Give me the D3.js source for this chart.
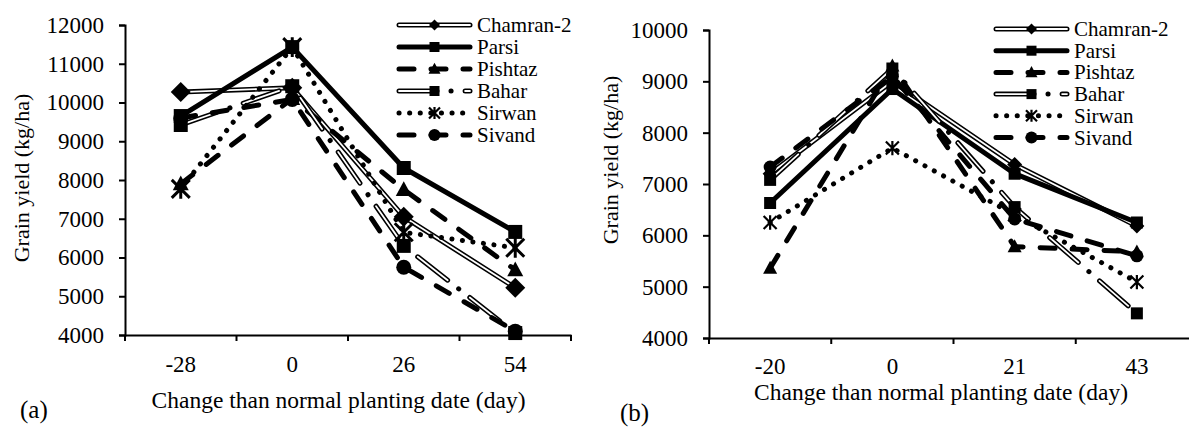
<!DOCTYPE html>
<html>
<head>
<meta charset="utf-8">
<script src="https://cdn.jsdelivr.net/npm/d3@7/dist/d3.min.js"></script>
<style>
  html, body { margin: 0; padding: 0; background: #fff; }
  svg { display: block; }
  text { font-family: "Liberation Serif", "Times New Roman", serif; fill: #000; }
</style>
</head>
<body>
<svg id="chart" width="1189" height="430"></svg>
<script>
// ---------- data ----------
const seriesNames = ["Chamran-2", "Parsi", "Pishtaz", "Bahar", "Sirwan", "Sivand"];

// panel (a)
const categoriesA = ["-28", "0", "26", "54"];
const yTicksA = [4000, 5000, 6000, 7000, 8000, 9000, 10000, 11000, 12000];
const chamranA = [10270, 10380, 7050, 5220];
const parsiA   = [9650, 11430, 8310, 6660];
const pishtazA = [7900, 10100, 7750, 5680];
const baharA   = [9420, 10420, 6300, 4050];
const sirwanA  = [7770, 11430, 6650, 6250];
const sivandA  = [9600, 10080, 5750, 4100];

// panel (b)
const categoriesB = ["-20", "0", "21", "43"];
const yTicksB = [4000, 5000, 6000, 7000, 8000, 9000, 10000];
const chamranB = [7200, 9000, 7380, 6180];
const parsiB   = [6630, 8850, 7200, 6250];
const pishtazB = [5360, 9300, 5780, 5680];
const baharB   = [7080, 9250, 6550, 4480];
const sirwanB  = [6250, 7700, 6400, 5090];
const sivandB  = [7330, 9100, 6320, 5600];

const xTitle = "Change than normal planting date (day)";
const yTitle = "Grain yield (kg/ha)";

// ---------- styles ----------
const FONT = "'Liberation Serif','Times New Roman',serif";
const styles = {
  "Chamran-2": { kind: "double", dash: null, marker: "diamond" },
  "Parsi":     { kind: "solid", dash: null, marker: "square" },
  "Pishtaz":   { kind: "solid", dash: "15,17", marker: "triangle" },
  "Bahar":     { kind: "double", dash: "38,14,0.1,14", innerDash: "38,28.1", marker: "square" },
  "Sirwan":    { kind: "solid", dash: "0.1,10.5", marker: "asterisk" },
  "Sivand":    { kind: "solid", dash: "15,17", marker: "circle" }
};

const svg = d3.select("#chart");

function markerPath(type, s) {
  const p = d3.path();
  if (type === "diamond") {
    p.moveTo(0, -s); p.lineTo(s, 0); p.lineTo(0, s); p.lineTo(-s, 0); p.closePath();
  } else if (type === "square") {
    p.rect(-s, -s, 2 * s, 2 * s);
  } else if (type === "triangle") {
    p.moveTo(0, -s * 1.05); p.lineTo(s, s * 0.8); p.lineTo(-s, s * 0.8); p.closePath();
  } else if (type === "circle") {
    p.arc(0, 0, s, 0, 2 * Math.PI);
  } else if (type === "asterisk") {
    p.moveTo(-s, -s); p.lineTo(s, s);
    p.moveTo(s, -s); p.lineTo(-s, s);
    p.moveTo(0, -s * 1.1); p.lineTo(0, s * 1.1);
  }
  return p.toString();
}

function drawMarker(g, type, x, y, s) {
  const el = g.append("path")
    .attr("d", markerPath(type, s))
    .attr("transform", `translate(${x},${y})`);
  if (type === "asterisk") {
    el.attr("fill", "none").attr("stroke", "#000").attr("stroke-width", Math.max(2.2, s * 0.33));
  } else {
    el.attr("fill", "#000").attr("stroke", "none");
  }
}

function styledPath(g, d, st) {
  const outer = g.append("path").attr("d", d)
    .attr("fill", "none").attr("stroke", "#000")
    .attr("stroke-width", 5).attr("stroke-linejoin", "round")
    .attr("stroke-linecap", "round");
  if (st.dash) outer.attr("stroke-dasharray", st.dash);
  if (st.kind === "double") {
    const inner = g.append("path").attr("d", d)
      .attr("fill", "none").attr("stroke", "#fff")
      .attr("stroke-width", 1.8).attr("stroke-linejoin", "round")
      .attr("stroke-linecap", "round");
    if (st.innerDash) inner.attr("stroke-dasharray", st.innerDash);
  }
}

function drawPanel(cfg) {
  const g = svg.append("g");
  const x = d3.scaleBand().domain(cfg.categories).range([cfg.x0, cfg.x1]).padding(0);
  const y = d3.scaleLinear().domain([cfg.yTicks[0], cfg.yTicks[cfg.yTicks.length - 1]]).range([cfg.yBottom, cfg.yTop]);
  const cx = c => x(c) + x.bandwidth() / 2;

  // series
  const line = d3.line().x(d => cx(d.c)).y(d => y(d.v));
  cfg.series.forEach((vals, i) => {
    const name = seriesNames[i];
    const st = styles[name];
    const pts = cfg.categories.map((c, j) => ({ c: c, v: vals[j] }));
    styledPath(g, line(pts), st);
    pts.forEach(p => drawMarker(g, st.marker, cx(p.c), y(p.v), cfg.msize[st.marker]));
  });

  // y axis
  const ya = g.append("g").attr("transform", `translate(${cfg.x0},0)`)
    .call(d3.axisLeft(y).tickValues(cfg.yTicks).tickSize(6).tickPadding(15).tickFormat(d3.format("d")));
  ya.attr("font-family", FONT);
  ya.select(".domain").attr("stroke-width", 2);
  ya.selectAll(".tick line").attr("stroke-width", 2);
  ya.selectAll("text").style("font-size", "23px").style("font-family", FONT);

  // x axis (labels at category centers, ticks at boundaries)
  const xa = g.append("g").attr("transform", `translate(0,${cfg.yBottom})`)
    .call(d3.axisBottom(x).tickSize(0).tickPadding(cfg.xLabelPad).tickSizeOuter(0));
  xa.attr("font-family", FONT);
  xa.select(".domain").attr("stroke-width", 2.2);
  xa.selectAll("text").style("font-size", "23px").style("font-family", FONT);
  const bounds = cfg.categories.map(c => x(c)).concat([x.range()[1]]);
  g.selectAll(null).data(bounds).enter().append("line")
    .attr("x1", d => d).attr("x2", d => d)
    .attr("y1", cfg.yBottom).attr("y2", cfg.yBottom + 6)
    .attr("stroke", "#000").attr("stroke-width", 2);

  // titles
  g.append("text").attr("x", cfg.xTitleX).attr("y", cfg.xTitleY)
    .attr("text-anchor", "middle").style("font-size", "23.5px").style("font-family", FONT).text(xTitle);
  g.append("text")
    .attr("transform", `translate(${cfg.yTitleX},${cfg.yTitleY}) rotate(-90)`)
    .attr("text-anchor", "middle").style("font-size", "22px").style("font-family", FONT).text(yTitle);
  g.append("text").attr("x", cfg.tagX).attr("y", cfg.tagY)
    .style("font-size", "25px").style("font-family", FONT).text(cfg.tag);

  // legend
  const lg = g.append("g");
  seriesNames.forEach((name, i) => {
    const st = styles[name];
    const ry = cfg.legY + i * cfg.legStep;
    const d = d3.line()([[cfg.legX0, ry], [cfg.legX1, ry]]);
    styledPath(lg, d, st);
    drawMarker(lg, st.marker, (cfg.legX0 + cfg.legX1) / 2, ry, cfg.legMsize[st.marker]);
    lg.append("text").attr("x", cfg.legX1 + 7).attr("y", ry + 7)
      .style("font-size", "21px").style("font-family", FONT).text(name);
  });
}

drawPanel({
  categories: categoriesA, yTicks: yTicksA,
  series: [chamranA, parsiA, pishtazA, baharA, sirwanA, sivandA],
  x0: 125, x1: 571, yTop: 25, yBottom: 335,
  xLabelPad: 21,
  msize: { diamond: 10, square: 7, triangle: 8, circle: 7.5, asterisk: 9 },
  xTitleX: 338.5, xTitleY: 408,
  yTitleX: 29, yTitleY: 178,
  tag: "(a)", tagX: 20, tagY: 418,
  legX0: 399, legX1: 470, legY: 25, legStep: 22,
  legMsize: { diamond: 5.5, square: 5, triangle: 6, circle: 6, asterisk: 5.5 }
});

drawPanel({
  categories: categoriesB, yTicks: yTicksB,
  series: [chamranB, parsiB, pishtazB, baharB, sirwanB, sivandB],
  x0: 709, x1: 1198, yTop: 30, yBottom: 338,
  xLabelPad: 20,
  msize: { diamond: 7.5, square: 6, triangle: 7, circle: 6.5, asterisk: 6.5 },
  xTitleX: 941, xTitleY: 400,
  yTitleX: 618, yTitleY: 160,
  tag: "(b)", tagX: 620, tagY: 421,
  legX0: 996, legX1: 1067, legY: 29, legStep: 21.7,
  legMsize: { diamond: 5.5, square: 5, triangle: 6, circle: 6, asterisk: 5.5 }
});
</script>
</body>
</html>
